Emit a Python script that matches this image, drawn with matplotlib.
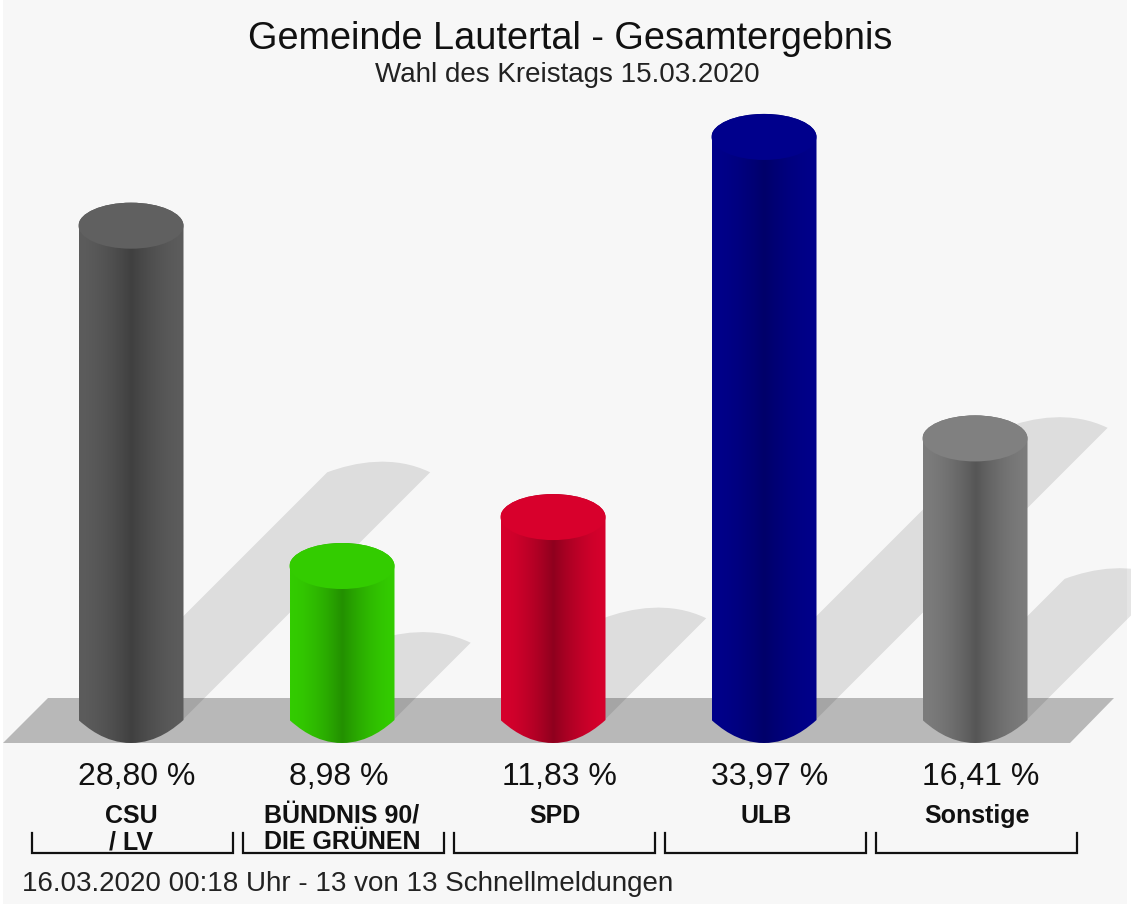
import numpy as np
import matplotlib
matplotlib.use('Agg')
import matplotlib.pyplot as plt
from matplotlib.colors import LinearSegmentedColormap
from matplotlib.patches import PathPatch, Polygon, Rectangle
from matplotlib.path import Path

plt.rcParams['font.family'] = ['Liberation Sans', 'DejaVu Sans']

# data
parties = ['CSU\n/ LV', 'BÜNDNIS 90/\nDIE GRÜNEN', 'SPD', 'ULB', 'Sonstige']
values = [28.80, 8.98, 11.83, 33.97, 16.41]
value_labels = ['28,80 %', '8,98 %', '11,83 %', '33,97 %', '16,41 %']
edge_cols = ['#5c5c5c', '#33cc00', '#d6002c', '#00008a', '#7c7c7c']
mid_cols = ['#404040', '#239000', '#8f001e', '#00006a', '#565656']
top_cols = ['#606060', '#33cc00', '#d8002c', '#00008c', '#808080']
label_shift = [6, -3, 6, 6, 6]

W, H = 1131, 911
UNIT_X = 211.0    # px per bar
UNIT_Y = 17.17    # px per percent
X0, Y0 = 131.0, 697.2

fig = plt.figure(figsize=(W / 100, H / 100), dpi=100, facecolor='white')
ax = fig.add_axes([0, 0, 1, 1])
ax.set_xlim((0 - X0) / UNIT_X, (W - X0) / UNIT_X)
ax.set_ylim((Y0 - H) / UNIT_Y, Y0 / UNIT_Y)
ax.axis('off')


def dx(p):
    return p / UNIT_X


def dy(p):
    return p / UNIT_Y


def fx(p):
    return (p - X0) / UNIT_X


def fy(p):
    return (Y0 - p) / UNIT_Y


# background and floor
ax.add_patch(Rectangle((fx(3), fy(904)), dx(1124), dy(904), fc='#f7f7f7', ec='none', zorder=0))
ax.add_patch(Polygon([(fx(3), fy(743)), (fx(48), fy(698)), (fx(1114), fy(698)), (fx(1070), fy(743))],
                     closed=True, fc='#b8b8b8', ec='none', zorder=1))

half_w = 52.5
ell_h = 23.0
k = 0.5522847


def ellipse_arc(cx, cy, rx, ry):
    verts = [(cx + rx, cy),
             (cx + rx, cy + k * ry), (cx + k * rx, cy + ry), (cx, cy + ry),
             (cx - k * rx, cy + ry), (cx - rx, cy + k * ry), (cx - rx, cy),
             (cx - rx, cy - k * ry), (cx - k * rx, cy - ry), (cx, cy - ry),
             (cx + k * rx, cy - ry), (cx + rx, cy - k * ry), (cx + rx, cy),
             (cx + rx, cy)]
    codes = [Path.MOVETO] + [Path.CURVE4] * 12 + [Path.CLOSEPOLY]
    return Path(verts, codes)


for i, v in enumerate(values):
    # shadow, runs up and right at 45 degrees
    dist = 8.6 * v
    tip_x = i + dx(dist)
    tip_y = fy(720) + dy(dist)
    base_y = fy(720)
    sw = dx(51.5)
    sh = dy(10)
    verts = [(i - sw, base_y), (tip_x - sw, tip_y),
             (tip_x - 0.45 * sw, tip_y + 1.05 * sh), (tip_x + 0.3 * sw, tip_y + 1.75 * sh), (tip_x + sw, tip_y),
             (i + sw, base_y), (i + sw, base_y)]
    codes = [Path.MOVETO, Path.LINETO,
             Path.CURVE4, Path.CURVE4, Path.CURVE4,
             Path.LINETO, Path.CLOSEPOLY]
    ax.add_patch(PathPatch(Path(verts, codes), fc='black', alpha=0.1, ec='none', zorder=2))

    # cylinder body, dark stripe in the middle
    rx = dx(half_w)
    ry = dy(ell_h)
    top_c = v - ry
    bot_c = fy(720)
    cmap = LinearSegmentedColormap.from_list('c', [edge_cols[i], mid_cols[i]])
    s = np.abs(np.linspace(-1, 1, 256))
    ramp = (1 - s) ** 1.6
    im = ax.imshow(ramp.reshape(1, -1), cmap=cmap, vmin=0, vmax=1, extent=(i - rx, i + rx, bot_c - ry, v),
                   aspect='auto', zorder=3, interpolation='bilinear')
    # clip outline: sides, top half ellipse, flatter lower curve
    outline = Path([(i - rx, bot_c), (i - rx, top_c),
                    (i - rx, top_c + k * ry), (i - k * rx, top_c + ry), (i, top_c + ry),
                    (i + k * rx, top_c + ry), (i + rx, top_c + k * ry), (i + rx, top_c),
                    (i + rx, bot_c),
                    (i + 0.85 * rx, bot_c - 0.3 * ry), (i + 0.5 * rx, bot_c - ry), (i, bot_c - ry),
                    (i - 0.5 * rx, bot_c - ry), (i - 0.85 * rx, bot_c - 0.3 * ry), (i - rx, bot_c),
                    (i - rx, bot_c)],
                   [Path.MOVETO, Path.LINETO,
                    Path.CURVE4, Path.CURVE4, Path.CURVE4,
                    Path.CURVE4, Path.CURVE4, Path.CURVE4,
                    Path.LINETO,
                    Path.CURVE4, Path.CURVE4, Path.CURVE4,
                    Path.CURVE4, Path.CURVE4, Path.CURVE4,
                    Path.CLOSEPOLY])
    im.set_clip_path(PathPatch(outline, transform=ax.transData))
    # top lid
    ax.add_patch(PathPatch(ellipse_arc(i, top_c, rx, ry), fc=top_cols[i], ec='none', zorder=4))

    # labels
    ax.text(i + dx(label_shift[i]), fy(777), value_labels[i], ha='center', va='center', fontsize=23, color='#111111')
    if '\n' in parties[i]:
        ax.text(i, fy(829), parties[i], ha='center', va='center', fontsize=18, color='#111111',
                fontweight='bold', linespacing=1.15)
    else:
        ax.text(i + dx(2), fy(816), parties[i], ha='center', va='center', fontsize=18, color='#111111',
                fontweight='bold')

    # bracket
    ax.plot([i - dx(99), i - dx(99), i + dx(102), i + dx(102)],
            [fy(833), fy(853), fy(853), fy(833)], color='#111111', lw=1.6, zorder=5, solid_joinstyle='miter')

ax.text(fx(570), fy(39), 'Gemeinde Lautertal - Gesamtergebnis', ha='center', va='center', fontsize=27.3, color='#111111')
ax.text(fx(567), fy(75), 'Wahl des Kreistags 15.03.2020', ha='center', va='center', fontsize=20, color='#222222')
ax.text(fx(22), fy(884), '16.03.2020 00:18 Uhr - 13 von 13 Schnellmeldungen', ha='left', va='center', fontsize=20,
        color='#222222')

fig.savefig('out.png', dpi=100)
